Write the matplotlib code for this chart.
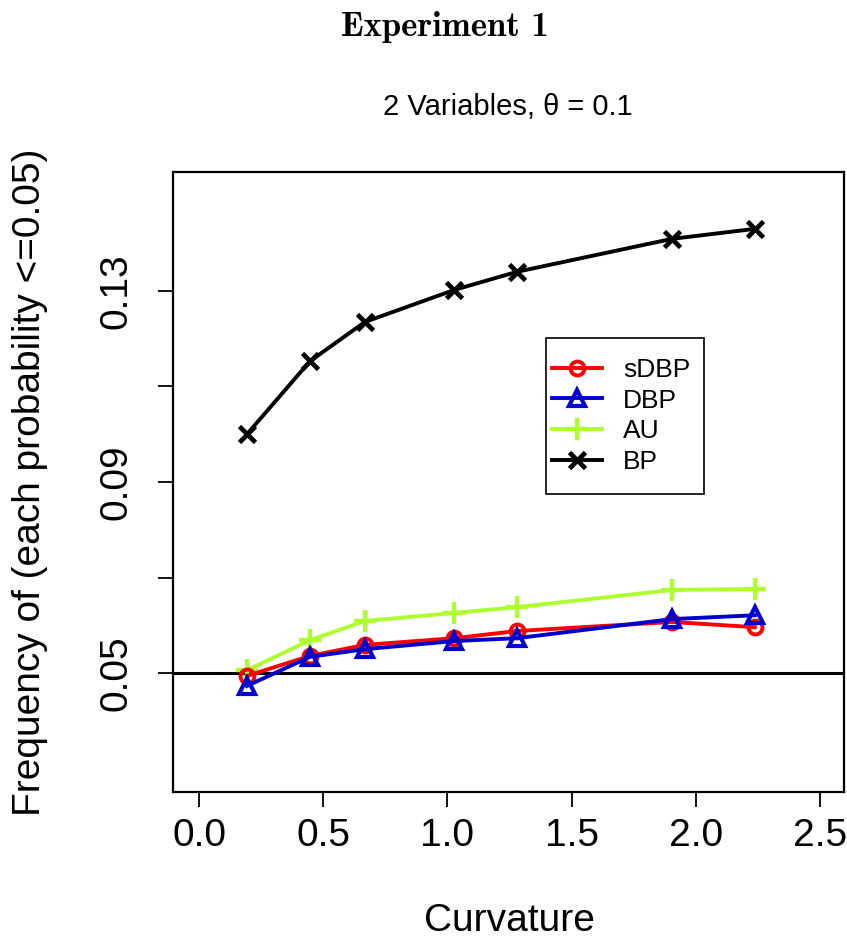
import matplotlib
matplotlib.use("Agg")
import matplotlib.pyplot as plt
from matplotlib.patches import Rectangle

plt.rcParams['font.family'] = ['Liberation Sans', 'DejaVu Sans']

curvature = [0.193, 0.447, 0.668, 1.027, 1.280, 1.904, 2.238]
sdbp = [0.0494, 0.0536, 0.0559, 0.0573, 0.0588, 0.0607, 0.0596]
dbp = [0.0473, 0.0534, 0.0550, 0.0567, 0.0573, 0.0613, 0.0621]
au = [0.0506, 0.0569, 0.0609, 0.0626, 0.0638, 0.0674, 0.0676]
bp = [0.1000, 0.1153, 0.1235, 0.1302, 0.1340, 0.1409, 0.1430]

x_ticks = [0.0, 0.5, 1.0, 1.5, 2.0, 2.5]
x_ticklabels = ["0.0", "0.5", "1.0", "1.5", "2.0", "2.5"]
y_ticks = [0.05, 0.07, 0.09, 0.11, 0.13]
y_ticklabels = ["0.05", "", "0.09", "", "0.13"]

W, H = 847, 944
fig = plt.figure(figsize=(W / 100, H / 100), dpi=100)
L, R, T, B = 173, 844, 172, 792
ax = fig.add_axes([L / W, 1 - B / H, (R - L) / W, (B - T) / H])

lw = 2.8
ax.axhline(0.05, color='black', lw=2.2, zorder=1)
ax.plot(curvature, sdbp, color='red', lw=lw, marker='o', ms=10, mfc='none', mew=2.8, label='sDBP', zorder=3)
ax.plot(curvature, dbp, color='#0000cd', lw=lw, marker='^', ms=11, mfc='none', mew=3.0, label='DBP', zorder=4)
ax.plot(curvature, au, color='#adff2f', lw=lw, marker='+', ms=16, mew=3.2, label='AU', zorder=2)
ax.plot(curvature, bp, color='black', lw=lw, marker='x', ms=11, mew=3.4, label='BP', zorder=3)

ax.set_xlim(-0.1047, 2.597)
ax.set_ylim(0.0251, 0.1549)
ax.set_xticks(x_ticks)
ax.set_xticklabels(x_ticklabels)
ax.set_yticks(y_ticks)
ax.set_yticklabels(y_ticklabels, rotation=90, va='center')
ax.tick_params(axis='both', direction='out', length=11, width=1.3, labelsize=28, color='black')
ax.tick_params(axis='x', pad=8)
ax.tick_params(axis='y', pad=17)
for s in ax.spines.values():
    s.set_linewidth(1.6)

# legend box
lx0, ly0, lx1, ly1 = 546, 338, 704, 494
ax.add_patch(Rectangle(((lx0 - L) / (R - L), 1 - (ly1 - T) / (B - T)),
                       (lx1 - lx0) / (R - L), (ly1 - ly0) / (B - T),
                       transform=ax.transAxes, fill=True, facecolor='white',
                       edgecolor='black', lw=1.2, zorder=5))
leg = ax.legend(loc='center left', bbox_to_anchor=((552 - L) / (R - L), 1 - (416 - T) / (B - T)),
                frameon=False, fontsize=19, handlelength=1.9, handletextpad=0.8,
                labelspacing=0.25, borderpad=0, borderaxespad=0, numpoints=1)
leg.set_zorder(6)

fig.text(509 / W, 1 - 921 / H, "Curvature", fontsize=28, ha='center', va='center')
fig.text(30 / W, 1 - 482 / H, "Frequency of (each probability <=0.05)", fontsize=28,
         ha='center', va='center', rotation=90)
fig.text(508 / W, 1 - 107 / H, "2 Variables, θ = 0.1", fontsize=21, ha='center', va='center')
fig.text(445 / W, 1 - 27 / H, "Experiment 1", fontsize=25, ha='center', va='center',
         family='cmb10')

fig.savefig("out.png", dpi=100)
